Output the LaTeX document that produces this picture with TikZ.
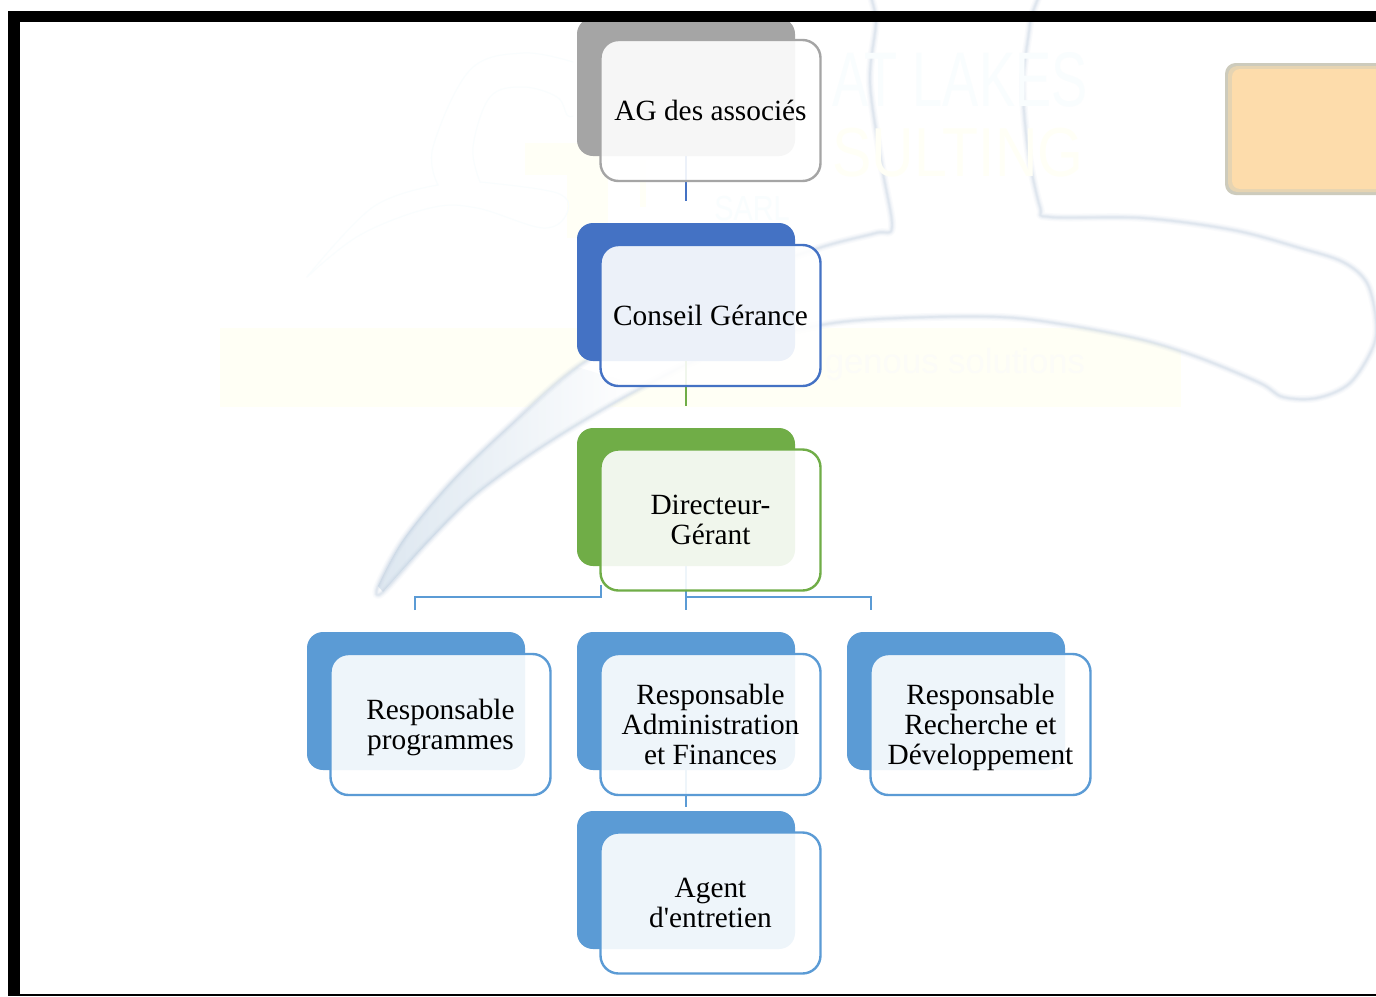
\documentclass[tikz,border=0pt]{standalone}
\usepackage{fontspec}
\setmainfont{Liberation Serif}[Ligatures=TeXOff]
\newfontfamily\wmfont{Liberation Sans}
\definecolor{cgrey}{HTML}{A5A5A5}
\definecolor{cblue}{HTML}{4472C4}
\definecolor{cgreen}{HTML}{70AD47}
\definecolor{csky}{HTML}{5B9BD5}
\definecolor{bandyellow}{HTML}{FFFFF5}
\definecolor{wmcyan}{HTML}{F9FDFE}
\definecolor{wmyellow}{HTML}{FFFFF6}
\definecolor{wmgrey}{HTML}{FCFCF8}
\definecolor{halo}{HTML}{B4C6DA}
\definecolor{tailblue}{HTML}{DDE7F0}
\definecolor{orangefill}{HTML}{FDDCAB}
\definecolor{orangemid}{HTML}{E6D4B2}
\definecolor{orangeedge}{HTML}{CDCBBC}
\tikzset{
  backbox/.style={rectangle,rounded corners=12pt,minimum width=163.5pt,minimum height=103.5pt,inner sep=0pt,outer sep=0pt,fill=#1},
  frontbox/.style={rectangle,rounded corners=13.5pt,minimum width=165pt,minimum height=105.75pt,inner sep=0pt,outer sep=0pt,
    draw=#1,line width=1.8pt,fill=white,fill opacity=.9,text opacity=1,align=center,text=black,
    font=\fontsize{22}{22.5}\selectfont},
  conn/.style={draw=#1,line width=1.8pt},
  frameline/.style={fill=black},
  wmtext/.style={font=\wmfont\fontsize{#1}{#1}\selectfont,anchor=center,transform shape,inner sep=0pt},
  wmarc/.style={draw=wmcyan,line width=.75pt},
}
\newcommand{\figpath}{plot[smooth cycle,tension=.55] coordinates {(378,586) (403,540) (450,483) (507,428) (577,367) (660,320) (745,275) (822,247) (876,233) (892,227) (882,167) (870,83) (876,23) (879,-40) (1035,-40) (1030,23) (1023,83) (1028,150) (1040,207) (1050,217) (1143,218) (1233,230) (1300,248) (1343,262) (1367,283) (1376,320) (1373,347) (1350,383) (1317,398) (1283,397) (1260,383) (1200,358) (1143,340) (1067,325) (1000,317) (900,318) (821,325) (720,350) (643,387) (580,423) (527,457) (473,497) (427,543) (383,592)}}
\newcommand{\nodescend}[1]{\raisebox{0pt}[\height][0pt]{#1}}
\begin{document}
\begin{tikzpicture}[x=0.75pt,y=-0.75pt]
\useasboundingbox (0,0) rectangle (1376,996);
\fill[white] (0,0) rectangle (1376,996);
% faint watermark background
\fill[bandyellow] (220,328) rectangle (1181,407);
\fill[wmyellow] (525,143) rectangle (608,175);
\fill[wmyellow] (567,175) rectangle (608,238);
\fill[wmyellow] (640,160) rectangle (646,207);
\draw[wmarc] plot[smooth,tension=.6] coordinates {(573,62) (523,53) (470,70) (433,147) (438,185)};
\draw[wmarc] plot[smooth,tension=.6] coordinates {(438,185) (373,207) (307,277)};
\draw[wmarc] plot[smooth,tension=.6] coordinates {(307,277) (360,235) (430,208) (477,208) (543,228) (567,213) (557,193) (480,182)};
\draw[wmarc] plot[smooth,tension=.6] coordinates {(480,182) (473,147) (490,97) (523,87) (557,97) (567,115) (573,116)};
% large swoosh
\fill[white] \figpath;
\shade[left color=tailblue,right color=white] plot[smooth,tension=.55] coordinates {(378,586) (403,540) (450,483) (507,428) (577,367)} -- (643,387) -- plot[smooth,tension=.55] coordinates {(580,423) (527,457) (473,497) (427,543) (383,592)} -- cycle;
\begin{scope}
\clip (0,0) rectangle (1376,996);
\foreach \w/\o in {6/.07,4/.10,2.4/.14,1.2/.16}{
  \draw[halo,line width=\w pt,opacity=\o,line join=round] \figpath;
}
\end{scope}
\node[wmtext=58,text=wmcyan,xscale=.7] (wmA) at (960,80) {AT LAKES};
\node[wmtext=52,text=wmyellow,xscale=.85] (wmB) at (958,153) {SULTING};
\node[wmtext=26,text=wmcyan,xscale=.83] (wmC) at (752,209) {SARL};
\node[wmtext=26,text=wmgrey] (wmD) at (955,365) {genous solutions};
% orange block
\fill[orangeedge,rounded corners=8pt] (1225,63) rectangle (1400,195);
\fill[orangemid,rounded corners=7pt] (1228,66) rectangle (1400,192);
\fill[orangefill,rounded corners=6pt] (1232,69) rectangle (1400,189);
% connector end points
\coordinate (e1) at (686,201);
\coordinate (e2) at (686,406);
\coordinate (jM) at (686,597);
\coordinate (eM) at (686,610);
\coordinate (eR) at (871,610);
\coordinate (jR) at (871,597);
\coordinate (eL) at (415,610);
\coordinate (jL) at (415,597);
\coordinate (jK) at (601,597);
\coordinate (tK) at (601,585);
\coordinate (e4) at (686,807);
% back boxes
\node[backbox=cgrey] (agB) at (686,87) {};
\node[backbox=cblue] (cgB) at (686,292) {};
\node[backbox=cgreen] (dgB) at (686,497) {};
\node[backbox=csky] (rpB) at (416,701) {};
\node[backbox=csky] (raB) at (686,701) {};
\node[backbox=csky] (rrB) at (956,701) {};
\node[backbox=csky] (aeB) at (686,880) {};
% connectors
\draw[conn=cblue] (agB.south) -- (e1);
\draw[conn=cgreen] (cgB.south) -- (e2);
\draw[conn=csky] (dgB.south) -- (eM);
\draw[conn=csky] (jM) -- (jR) -- (eR);
\draw[conn=csky] (eL) -- (jL) -- (jK) -- (tK);
\draw[conn=csky] (raB.south) -- (e4);
% front boxes
\node[frontbox=cgrey] (ag) at (710.5,110.5) {AG des associés};
\node[frontbox=cblue] (cg) at (710.5,315.5) {Conseil Gérance};
\node[frontbox=cgreen] (dg) at (710.5,520) {Directeur-\\Gérant};
\node[frontbox=csky] (rp) at (440.5,724.5) {Responsable\\\nodescend{programmes}};
\node[frontbox=csky] (ra) at (710.5,724.5) {Responsable\\Administration\\et Finances};
\node[frontbox=csky] (rr) at (980.5,724.5) {Responsable\\Recherche et\\\nodescend{Développement}};
\node[frontbox=csky] (ae) at (710.5,903) {Agent\\d'entretien};
% black frame
\fill[frameline] (8,11) rectangle (1376,22);
\fill[frameline] (8,11) rectangle (20,996);
\fill[frameline] (8,994) rectangle (1376,996);
\end{tikzpicture}
\end{document}
